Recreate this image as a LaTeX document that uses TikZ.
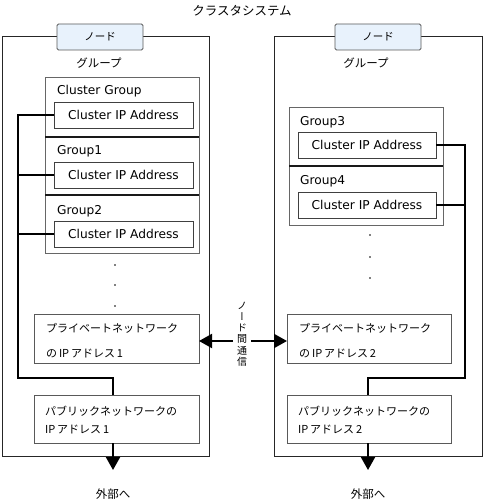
\documentclass[tikz,border=0pt]{standalone}
\usepackage{fontspec}
\usepackage{graphicx}
\setmainfont{Noto Sans CJK JP}
\newfontfamily\latinfont{DejaVu Sans}
\newfontfamily\vertfont[RawFeature=+vert]{Noto Sans CJK JP}
\usetikzlibrary{arrows.meta}
\definecolor{lblue}{RGB}{232,242,252}
\begin{document}
\begin{tikzpicture}[x=1pt,y=-1pt,
  rect/.style={inner sep=0pt, outer sep=0pt, line width=0.9pt},
  outerbox/.style={rect, draw=black!85},
  grpbox/.style={rect, draw=black!60},
  ipbox/.style={rect, draw=black!75, font=\latinfont\fontsize{12.2}{14}\selectfont},
  netbox/.style={rect, draw=black!65},
  nodelbl/.style={rect, draw=black!65, fill=lblue, rounded corners=1.5pt, font=\fontsize{10.5}{12}\selectfont},
  jtext/.style={inner sep=0pt, anchor=west, font=\fontsize{11}{13}\selectfont},
  ltext/.style={inner sep=0pt, anchor=west, font=\latinfont\fontsize{12.2}{14}\selectfont},
  ctext/.style={inner sep=0pt, font=\fontsize{11.5}{13}\selectfont},
  sepline/.style={line width=1.6pt, black!90},
  bus/.style={line width=2pt, black},
  arr/.style={line width=2pt, black, -{Triangle[length=13pt,width=14pt]}},
  smalldot/.style={circle, fill=black, inner sep=0pt, minimum size=1.8pt}
]
\useasboundingbox (0,0) rectangle (484,503);

% title
\node[ctext, font=\fontsize{12.5}{14}\selectfont] (title) at (242,11) {クラスタシステム};

% outer node boxes
\node[outerbox, minimum width=207pt, minimum height=420pt] (outL) at (105.5,246) {};
\node[outerbox, minimum width=208pt, minimum height=420pt] (outR) at (378,246) {};
\node[nodelbl, minimum width=86pt, minimum height=26pt] (lblL) at (100,37) {ノード};
\node[nodelbl, minimum width=86pt, minimum height=26pt] (lblR) at (378,37) {ノード};
\node[ctext] (grpL) at (99,63) {グループ};
\node[ctext] (grpR) at (366,63) {グループ};

% left groups
\node[grpbox, minimum width=154pt, minimum height=60pt] (cg) at (122,107) {};
\node[grpbox, minimum width=154pt, minimum height=58pt] (g1) at (122,166) {};
\node[grpbox, minimum width=154pt, minimum height=58pt] (g2) at (122,224) {};
\draw[sepline] (cg.south west) -- (cg.south east);
\draw[sepline] (g1.south west) -- (g1.south east);
\node[ltext] (cgt) at (57,91) {Cluster Group};
\node[ltext] (g1t) at (57,151) {Group1};
\node[ltext] (g2t) at (57,211) {Group2};
\node[ipbox, minimum width=139pt, minimum height=26pt] (cgip) at (123.5,115) {Cluster IP Address};
\node[ipbox, minimum width=139pt, minimum height=26pt] (g1ip) at (123.5,175) {Cluster IP Address};
\node[ipbox, minimum width=139pt, minimum height=26pt] (g2ip) at (123.5,234) {Cluster IP Address};

% right groups
\node[grpbox, minimum width=154pt, minimum height=59pt] (g3) at (366,136.5) {};
\node[grpbox, minimum width=154pt, minimum height=59pt] (g4) at (366,195.5) {};
\draw[sepline] (g3.south west) -- (g3.south east);
\node[ltext] (g3t) at (300,122) {Group3};
\node[ltext] (g4t) at (300,181) {Group4};
\node[ipbox, minimum width=138pt, minimum height=26pt] (g3ip) at (367,145) {Cluster IP Address};
\node[ipbox, minimum width=138pt, minimum height=26pt] (g4ip) at (367,205) {Cluster IP Address};

% dots
\node[smalldot] (dl1) at (115,265) {};
\node[smalldot] (dl2) at (115,285) {};
\node[smalldot] (dl3) at (115,306) {};
\node[smalldot] (dr1) at (370,235) {};
\node[smalldot] (dr2) at (370,257) {};
\node[smalldot] (dr3) at (370,278) {};

% network boxes
\node[netbox, minimum width=165pt, minimum height=49pt] (privL) at (116.5,338.5) {};
\node[jtext] (privL1) at (46,328) {プライベートネットワーク};
\node[jtext] (privL2) at (46,353) {の\,IP\,アドレス\,1};
\node[netbox, minimum width=165pt, minimum height=48pt] (pubL) at (116.5,419) {};
\node[jtext] (pubL1) at (45,411) {パブリックネットワークの};
\node[jtext] (pubL2) at (45,429) {IP\,アドレス\,1};

\node[netbox, minimum width=164pt, minimum height=49pt] (privR) at (369,338.5) {};
\node[jtext] (privR1) at (299,328) {プライベートネットワーク};
\node[jtext] (privR2) at (299,353) {の\,IP\,アドレス\,2};
\node[netbox, minimum width=164pt, minimum height=48pt] (pubR) at (369,419) {};
\node[jtext] (pubR1) at (298,411) {パブリックネットワークの};
\node[jtext] (pubR2) at (298,429) {IP\,アドレス\,2};

% buses
\coordinate (busLb) at (18,378);
\coordinate (jL) at (113,378);
\draw[bus] (cgip.west) -- (cgip.west -| busLb) -- (busLb) -- (jL) -- (jL |- pubL.north);
\draw[bus] (g1ip.west) -- (g1ip.west -| busLb);
\draw[bus] (g2ip.west) -- (g2ip.west -| busLb);

\coordinate (busRb) at (465,378);
\coordinate (jR) at (368,378);
\draw[bus] (g3ip.east) -- (g3ip.east -| busRb) -- (busRb) -- (jR) -- (jR |- pubR.north);
\draw[bus] (g4ip.east) -- (g4ip.east -| busRb);

% external arrows
\coordinate (extL) at (113,470);
\coordinate (extR) at (368,470);
\draw[arr] (jL |- pubL.south) -- (extL);
\draw[arr] (jR |- pubR.south) -- (extR);
\node[ctext] (extLt) at (113,494) {外部へ};
\node[ctext] (extRt) at (368,494) {外部へ};

% inter-node communication
\node[inner sep=0pt, align=center, font=\vertfont\fontsize{10}{11.3}\selectfont] (comm) at (242,334) {ノ\\ー\\ド\\間\\通\\信};
\coordinate (cmL) at (233,341);
\coordinate (cmR) at (251,341);
\draw[arr] (cmL) -- (privL.east |- cmL);
\draw[arr] (cmR) -- (privR.west |- cmR);
\end{tikzpicture}
\end{document}
